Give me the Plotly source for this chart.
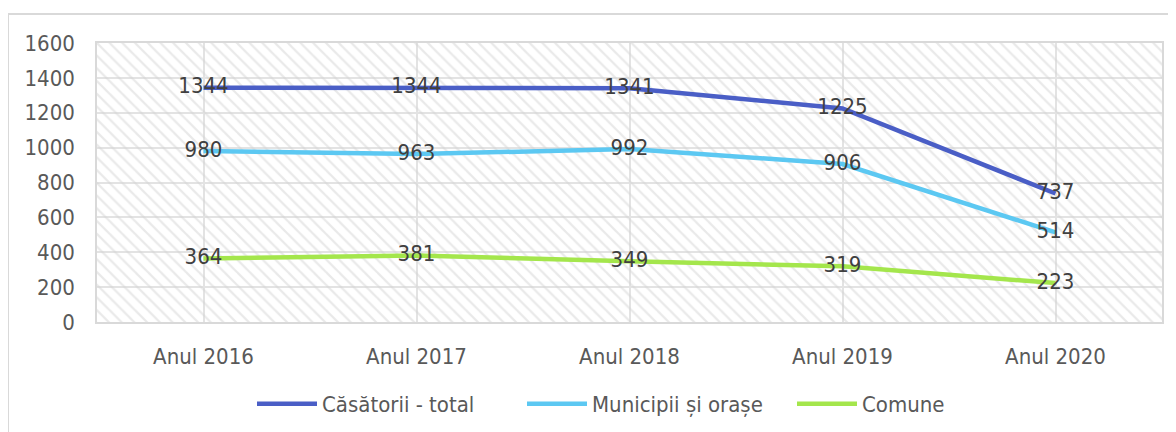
import plotly.graph_objects as go

# chart data
years = ['Anul 2016', 'Anul 2017', 'Anul 2018', 'Anul 2019', 'Anul 2020']
total = [1344, 1344, 1341, 1225, 737]
urban = [980, 963, 992, 906, 514]
rural = [364, 381, 349, 319, 223]
y_ticks = [0, 200, 400, 600, 800, 1000, 1200, 1400, 1600]

FONT = 'DejaVu Sans Condensed, sans-serif'
Y_MAX = y_ticks[-1]

series = [
    ('Căsătorii - total', total, '#4a5ec6'),
    ('Municipii și orașe', urban, '#5cc8f2'),
    ('Comune', rural, '#a4e64c'),
]

# the page body keeps its default 8px margin, so offsets are measured from there
OFF = 8
PL, PR, PT, PB = 97 - OFF, 1162 - OFF, 43 - OFF, 322 - OFF
PW, PH = PR - PL, PB - PT

fig = go.Figure()

# hatched background of the plot area, one full-width bar per category
fig.add_trace(go.Bar(
    x=years, y=[Y_MAX] * len(years), width=1,
    marker=dict(color='rgba(0,0,0,0)', line=dict(width=0),
                pattern=dict(shape='\\', fgcolor='#d4d4d4', bgcolor='rgba(0,0,0,0)',
                             size=9, solidity=0.25)),
    hoverinfo='skip', showlegend=False,
))

for name, vals, color in series:
    fig.add_trace(go.Scatter(
        x=years, y=vals, name=name, mode='lines+text',
        line=dict(color=color, width=4.5),
        text=[str(v) for v in vals], textposition='middle center',
        textfont=dict(family=FONT, size=22, color='#404040'),
        cliponaxis=False,
    ))

# outer chart border (right and bottom edges fall outside the picture)
fig.add_shape(type='rect', xref='paper', yref='paper',
              x0=(8 - OFF - PL) / PW, x1=1.05, y0=-0.5, y1=(PB - (14 - OFF)) / PH,
              line=dict(color='#d9d9d9', width=2), layer='below')

fig.update_layout(
    width=1176, height=432,
    margin=dict(l=PL, r=1176 - PR, t=PT, b=432 - PB),
    paper_bgcolor='white', plot_bgcolor='white',
    bargap=0,
    font=dict(family=FONT, size=22, color='#595959'),
    legend=dict(orientation='h', x=(657 - OFF - PL) / PW, xanchor='center',
                y=(PB - (404 - OFF)) / PH, yanchor='middle',
                font=dict(family=FONT, size=22, color='#595959'), itemwidth=60,
                entrywidth=195, entrywidthmode='pixels',
                traceorder='normal'),
    showlegend=True,
)
fig.update_xaxes(
    type='category', range=[-0.5, len(years) - 0.5],
    showgrid=True, gridcolor='#e3e3e3', gridwidth=1.5,
    showline=True, linecolor='#d9d9d9', linewidth=1.5, mirror=True,
    ticks='', ticklabelstandoff=14, tickfont=dict(size=22, color='#595959'),
)
fig.update_yaxes(
    range=[0, Y_MAX], tickvals=y_ticks,
    showgrid=True, gridcolor='#e3e3e3', gridwidth=1.5,
    showline=True, linecolor='#d9d9d9', linewidth=1.5, mirror=True,
    zeroline=False, ticks='', ticklabelstandoff=16,
    tickfont=dict(size=22, color='#595959'),
)

fig.write_html('out.html')
